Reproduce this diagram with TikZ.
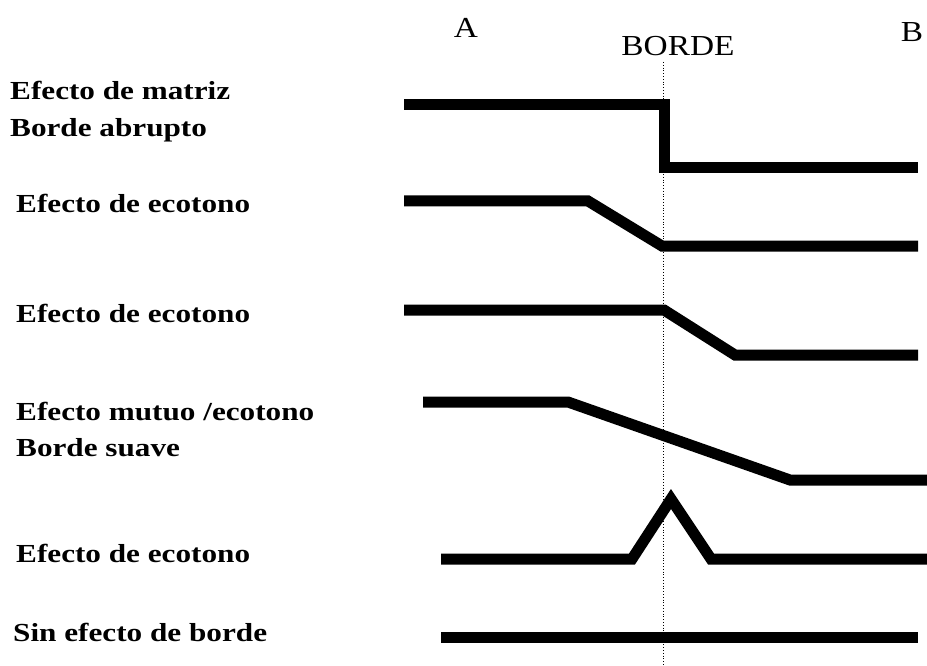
\documentclass[tikz,border=0pt]{standalone}
\usepackage{fontspec}
\setmainfont{Liberation Serif}
\newfontfamily\labfont{Liberation Serif}[FakeStretch=1.2]
\newfontfamily\headfont{Liberation Serif}[FakeStretch=1.15]
\begin{document}
\begin{tikzpicture}[x=1pt,y=-1pt,
  curve/.style={line width=11pt,line join=miter,line cap=butt},
  lab/.style={anchor=base west,inner sep=0pt,font=\labfont\bfseries\fontsize{26}{26}\selectfont},
  head/.style={anchor=base,inner sep=0pt,font=\headfont\fontsize{29}{29}\selectfont}]
\useasboundingbox (0,0) rectangle (927,666);
% headings
\node[head] (A) at (466,38) {A};
\node[head] (borde) at (678,56) {BORDE};
\node[head] (B) at (912,42) {B};
% edge line
\coordinate (etop) at (663,62);
\coordinate (ebot) at (663,666);
\draw[dotted,line width=0.8pt] (etop) -- (ebot);
% labels
\node[lab] (l1a) at (10,100) {Efecto de matriz};
\node[lab] (l1b) at (10,137) {Borde abrupto};
\node[lab] (l2) at (16,212) {Efecto de ecotono};
\node[lab] (l3) at (16,322) {Efecto de ecotono};
\node[lab] (l4a) at (16,420) {Efecto mutuo /ecotono};
\node[lab] (l4b) at (16,456) {Borde suave};
\node[lab] (l5) at (16,562) {Efecto de ecotono};
\node[lab] (l6) at (13,641) {Sin efecto de borde};
% profiles
\draw[curve] (404,105) -- (664,105) -- (664,168) -- (918,168);
\draw[curve] (404,201) -- (588,201) -- (662,246) -- (918,246);
\draw[curve] (404,310) -- (664,310) -- (735,355) -- (918,355);
\draw[curve] (423,402) -- (568,402) -- (790,480) -- (927,480);
\draw[curve] (441,559) -- (632,559) -- (671,499) -- (711,559) -- (927,559);
\draw[curve] (441,637) -- (918,637);
\end{tikzpicture}
\end{document}
